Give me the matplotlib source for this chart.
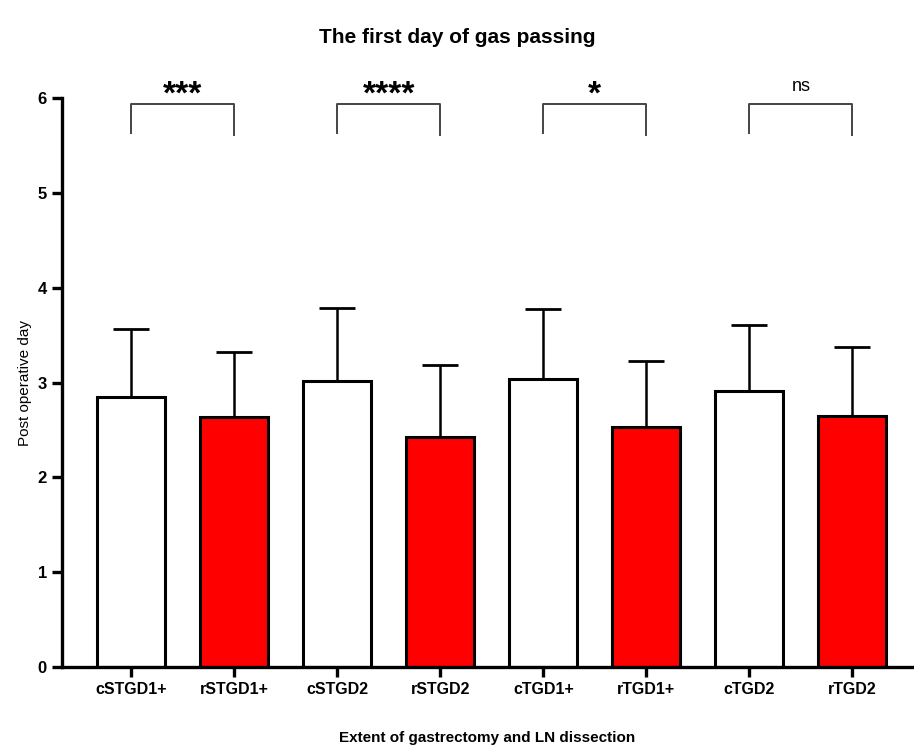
import matplotlib

matplotlib.use("Agg")
import matplotlib.pyplot as plt
import numpy as np

plt.rcParams["font.family"] = ["Liberation Sans", "DejaVu Sans"]

# data
groups = ["cSTGD1+", "rSTGD1+", "cSTGD2", "rSTGD2", "cTGD1+", "rTGD1+", "cTGD2", "rTGD2"]
means = [2.85, 2.64, 3.02, 2.43, 3.04, 2.53, 2.91, 2.65]
sd_upper = [0.71, 0.68, 0.77, 0.75, 0.73, 0.70, 0.70, 0.72]
pairs = [(0, 1), (2, 3), (4, 5), (6, 7)]
sig_labels = ["***", "****", "*", "ns"]

colors = ["white" if g.startswith("c") else "#ff0000" for g in groups]
x = np.arange(len(groups))

fig = plt.figure(figsize=(9.14, 7.53), dpi=100)
ax = fig.add_axes([0.068, 0.114, 0.93, 0.756])

ax.bar(x, means, width=0.66, color=colors, edgecolor="black", linewidth=2.2, zorder=2)
ax.errorbar(x, means, yerr=[np.zeros(len(x)), sd_upper], fmt="none",
            ecolor="black", elinewidth=1.8, capsize=13, capthick=2.0, zorder=1)

# significance brackets
for (a, b), lab in zip(pairs, sig_labels):
    ax.plot([x[a], x[a], x[b], x[b]], [5.63, 5.94, 5.94, 5.61],
            color="#444444", lw=1.4, clip_on=False)
    if lab == "ns":
        ax.text((x[a] + x[b]) / 2, 6.03, lab, ha="center", va="bottom", fontsize=13)
    else:
        ax.text((x[a] + x[b]) / 2, 5.87, lab, ha="center", va="bottom",
                fontsize=24, fontweight="bold")

ax.set_xlim(-0.67, 7.58)
ax.set_ylim(0, 6)
ax.set_yticks(range(7))
ax.set_xticks(x)
ax.set_xticklabels(groups, fontweight="bold", fontsize=11.5)
for lab in ax.get_yticklabels():
    lab.set_fontweight("bold")
    lab.set_fontsize(12)

ax.spines["top"].set_visible(False)
ax.spines["right"].set_visible(False)
ax.spines["left"].set_linewidth(2.4)
ax.spines["bottom"].set_linewidth(2.4)
ax.tick_params(axis="both", width=2.4, length=7, pad=4)

ax.set_ylabel("Post operative day", fontsize=11)
ax.set_xlabel("Extent of gastrectomy and LN dissection", fontweight="bold",
              fontsize=11, labelpad=24)
fig.text(0.5, 0.95, "The first day of gas passing", ha="center", va="center",
         fontsize=15, fontweight="bold")

fig.savefig("out.png", dpi=100)
